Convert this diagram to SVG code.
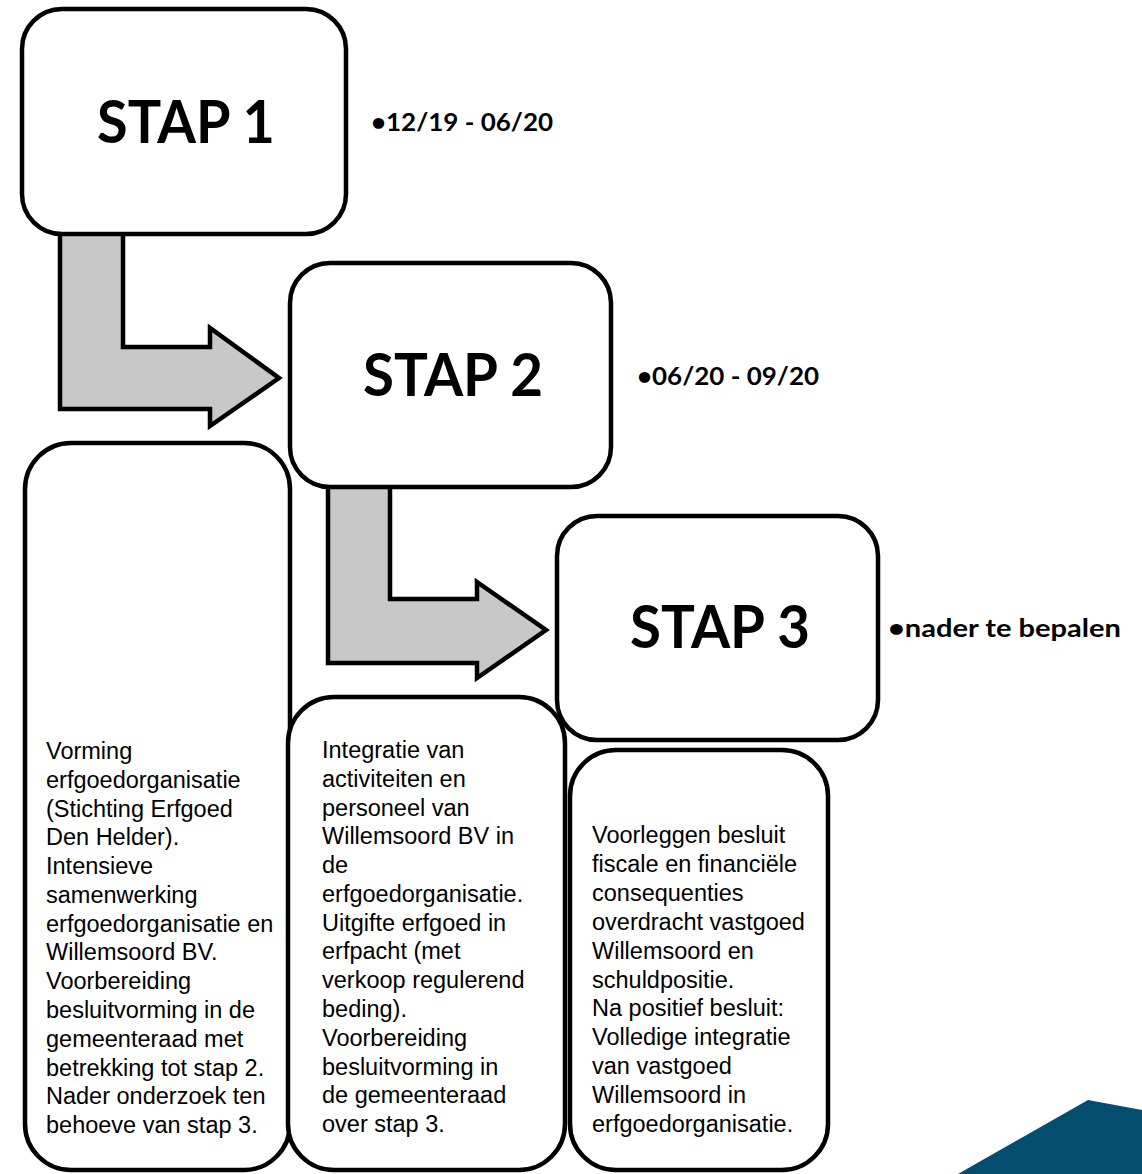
<svg xmlns="http://www.w3.org/2000/svg" width="1142" height="1174" viewBox="0 0 1142 1174">
<style>
.box{fill:#fff;stroke:#000;stroke-width:4.5}
.arr{fill:#c8c8c8;stroke:#000;stroke-width:4.5;stroke-linejoin:miter}
.title{font-family:Lato,"Open Sans",sans-serif;font-weight:700;font-size:60px;fill:#000}
.date{font-family:Lato,"Open Sans",sans-serif;font-weight:700;font-size:24px;fill:#000}
.body{font-family:"Liberation Sans",Arial,sans-serif;font-size:23.5px;fill:#000}
</style>
<rect width="1142" height="1174" fill="#fff"/>
<g id="connectors">
<path class="arr" d="M60,230 L123,230 L123,347 L210,347 L210,328 L279,378 L210,426 L210,409 L60,409 Z"/>
<path class="arr" d="M328,484 L390,484 L390,599 L477,599 L477,582 L546,630 L477,678 L477,663 L328,663 Z"/>
</g>
<g id="stap1">
<rect class="box" x="22" y="9" width="324" height="225" rx="40"/>
<text class="title" x="186" y="143" text-anchor="middle" textLength="178" lengthAdjust="spacingAndGlyphs">STAP 1</text>
</g>
<text class="date" x="371" y="131" textLength="182" lengthAdjust="spacingAndGlyphs">•12/19 - 06/20</text>
<g id="stap2">
<rect class="box" x="290" y="263" width="321" height="224" rx="40"/>
<text class="title" x="453" y="396" text-anchor="middle" textLength="180" lengthAdjust="spacingAndGlyphs">STAP 2</text>
</g>
<text class="date" x="637" y="385" textLength="182" lengthAdjust="spacingAndGlyphs">•06/20 - 09/20</text>
<g id="stap3">
<rect class="box" x="557" y="516" width="321" height="224" rx="40"/>
<text class="title" x="720" y="648" text-anchor="middle" textLength="180" lengthAdjust="spacingAndGlyphs">STAP 3</text>
</g>
<text class="date" x="888" y="637" textLength="233" lengthAdjust="spacingAndGlyphs">•nader te bepalen</text>
<g id="omschrijving1">
<rect class="box" x="25" y="443" width="265" height="727" rx="46"/>
<text class="body">
<tspan x="46" y="759">Vorming</tspan>
<tspan x="46" y="787.8">erfgoedorganisatie</tspan>
<tspan x="46" y="816.5">(Stichting Erfgoed</tspan>
<tspan x="46" y="845.3">Den Helder).</tspan>
<tspan x="46" y="874.1">Intensieve</tspan>
<tspan x="46" y="902.8">samenwerking</tspan>
<tspan x="46" y="931.6">erfgoedorganisatie en</tspan>
<tspan x="46" y="960.4">Willemsoord BV.</tspan>
<tspan x="46" y="989.2">Voorbereiding</tspan>
<tspan x="46" y="1017.9">besluitvorming in de</tspan>
<tspan x="46" y="1046.7">gemeenteraad met</tspan>
<tspan x="46" y="1075.5">betrekking tot stap 2.</tspan>
<tspan x="46" y="1104.2">Nader onderzoek ten</tspan>
<tspan x="46" y="1133">behoeve van stap 3.</tspan>
</text>
</g>
<g id="omschrijving2">
<rect class="box" x="288" y="697" width="277" height="473" rx="46"/>
<text class="body">
<tspan x="322" y="758">Integratie van</tspan>
<tspan x="322" y="786.8">activiteiten en</tspan>
<tspan x="322" y="815.5">personeel van</tspan>
<tspan x="322" y="844.3">Willemsoord BV in</tspan>
<tspan x="322" y="873.1">de</tspan>
<tspan x="322" y="901.8">erfgoedorganisatie.</tspan>
<tspan x="322" y="930.6">Uitgifte erfgoed in</tspan>
<tspan x="322" y="959.4">erfpacht (met</tspan>
<tspan x="322" y="988.2">verkoop regulerend</tspan>
<tspan x="322" y="1016.9">beding).</tspan>
<tspan x="322" y="1045.7">Voorbereiding</tspan>
<tspan x="322" y="1074.5">besluitvorming in</tspan>
<tspan x="322" y="1103.2">de gemeenteraad</tspan>
<tspan x="322" y="1132">over stap 3.</tspan>
</text>
</g>
<g id="omschrijving3">
<rect class="box" x="570" y="750" width="258" height="420" rx="46"/>
<text class="body">
<tspan x="592" y="843">Voorleggen besluit</tspan>
<tspan x="592" y="871.9">fiscale en financiële</tspan>
<tspan x="592" y="900.8">consequenties</tspan>
<tspan x="592" y="929.7">overdracht vastgoed</tspan>
<tspan x="592" y="958.6">Willemsoord en</tspan>
<tspan x="592" y="987.5">schuldpositie.</tspan>
<tspan x="592" y="1016.4">Na positief besluit:</tspan>
<tspan x="592" y="1045.3">Volledige integratie</tspan>
<tspan x="592" y="1074.2">van vastgoed</tspan>
<tspan x="592" y="1103.1">Willemsoord in</tspan>
<tspan x="592" y="1132">erfgoedorganisatie.</tspan>
</text>
</g>
<polygon points="1088,1100 1142,1110 1142,1174 958,1174" fill="#044d6e"/>
</svg>
